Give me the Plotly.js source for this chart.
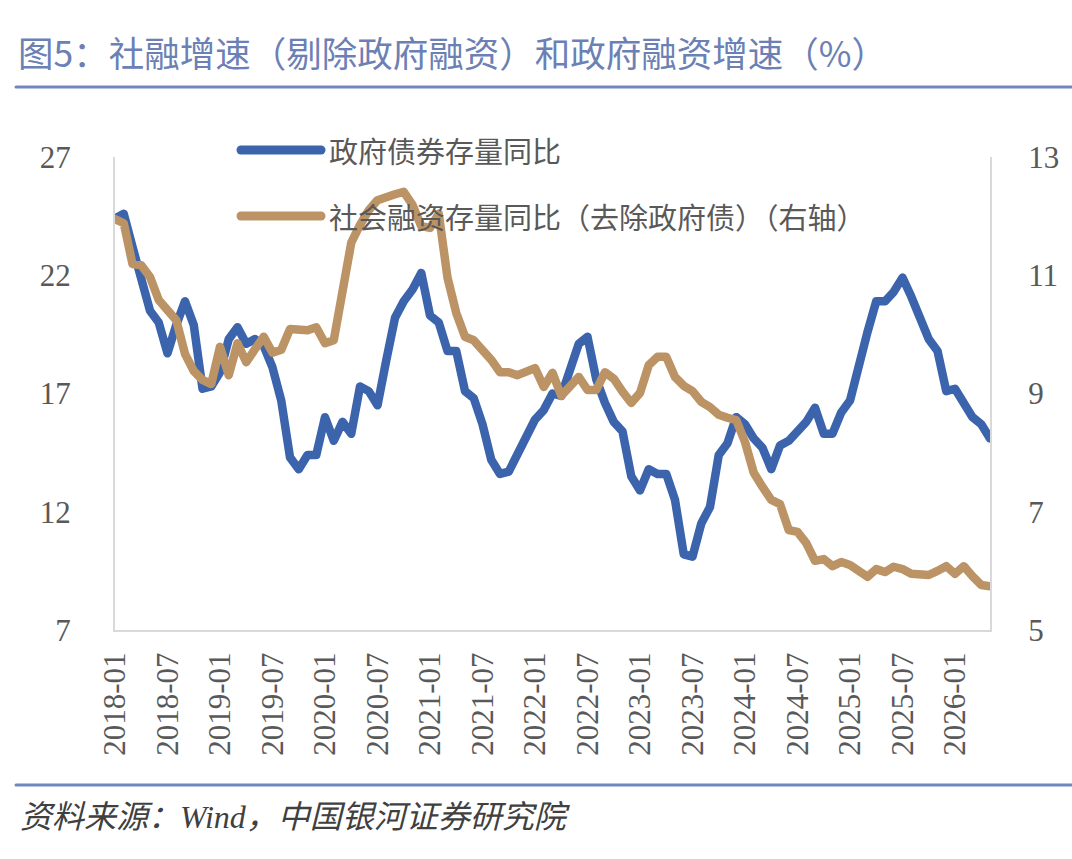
<!DOCTYPE html>
<html>
<head>
<meta charset="utf-8">
<script src="https://cdn.plot.ly/plotly-3.0.1.min.js"></script>
<style>
  html, body { margin: 0; padding: 0; background: #ffffff; }
  #chart { width: 1072px; height: 859px; }
  .js-line { stroke-linejoin: round; stroke-linecap: round; }
  .shapelayer path { stroke-linecap: round; }
</style>
</head>
<body>
<div id="chart"></div>
<script>
// ---------- data ----------
const startYear = 2018, startMonth = 1, monthCount = 101; // 2018-01 .. 2026-05
const months = [];
for (let i = 0; i < monthCount; i++) {
  const m = startMonth - 1 + i;
  const y = startYear + Math.floor(m / 12);
  const mm = (m % 12) + 1;
  months.push(y + '-' + (mm < 10 ? '0' + mm : '' + mm));
}

const seriesNames = ['政府债券存量同比', '社会融资存量同比（去除政府债）（右轴）'];

// 政府债券存量同比 (left axis, %)
const govBondYoY = [
  24.4, 24.6, 23.2, 22.0, 20.5, 20.0, 18.7, 19.9, 20.9, 19.9,
  17.2, 17.3, 17.9, 19.3, 19.8, 19.1, 19.3, 19.0, 18.1, 16.7,
  14.3, 13.8, 14.4, 14.4, 16.0, 15.0, 15.8, 15.3, 17.3, 17.1,
  16.5, 18.4, 20.2, 20.9, 21.4, 22.1, 20.3, 20.0, 18.8, 18.8,
  17.1, 16.8, 15.7, 14.2, 13.6, 13.7, 14.5, 15.3, 15.9, 16.3,
  17.0, 16.9, 18.1, 19.1, 19.4, 17.6, 16.6, 15.8, 15.4, 13.5,
  12.9, 13.8, 13.6, 13.6, 12.5, 10.2, 10.1, 11.5, 12.2, 14.4,
  14.9, 16.0, 15.7, 15.1, 14.7, 13.8, 14.8, 15.0, 15.4, 15.8,
  16.4, 15.3, 15.3, 16.2, 16.7, 18.3, 19.6, 20.9, 20.9, 21.3,
  21.9, 21.1, 20.2, 19.3, 18.8, 17.1, 17.2, 16.6, 16.0, 15.7,
  15.1
];

// 社会融资存量同比（去除政府债） (right axis, %)
const tsfExGovYoY = [
  11.95, 11.88, 11.19, 11.17, 10.97, 10.58, 10.41, 10.24, 9.67, 9.38,
  9.23, 9.16, 9.79, 9.31, 9.85, 9.53, 9.75, 9.96, 9.69, 9.74,
  10.09, 10.07, 10.07, 10.12, 9.85, 9.90, 10.80, 11.55, 11.85, 12.10,
  12.27, 12.33, 12.37, 12.41, 12.19, 11.83, 11.80, 12.04, 10.96, 10.36,
  9.96, 9.90, 9.74, 9.57, 9.36, 9.36, 9.31, 9.36, 9.43, 9.11,
  9.35, 8.96, 9.13, 9.28, 9.06, 9.06, 9.36, 9.25, 9.03, 8.84,
  9.01, 9.48, 9.62, 9.62, 9.28, 9.13, 9.04, 8.86, 8.77, 8.64,
  8.59, 8.55, 8.18, 7.66, 7.42, 7.20, 7.13, 6.69, 6.66, 6.47,
  6.17, 6.20, 6.08, 6.15, 6.10, 5.98, 5.90, 6.03, 5.98, 6.07,
  6.03, 5.95, 5.93, 5.93, 6.00, 6.08, 5.95, 6.08, 5.91, 5.76,
  5.74
];

const leftTicks = [7, 12, 17, 22, 27];
const rightTicks = [5, 7, 9, 11, 13];
const xTickLabels = months.filter((m, i) => i % 6 === 0);

// ---------- styling ----------
const W = 1072, H = 859;
const M = { l: 115, r: 82, t: 157, b: 229 };
const PW = W - M.l - M.r, PH = H - M.t - M.b;
const px = x => (x - M.l) / PW;          // pixel -> paper x
const py = y => (H - M.b - y) / PH;       // pixel -> paper y

const BLUE = '#3b64ad', BROWN = '#bb9365';
const TICKC = '#595959', AXISC = '#d9d9d9', RULEC = '#7088bd';
const NUMFONT = 'Liberation Serif, Times New Roman, serif';
const CJK = 'Noto Sans CJK SC, Noto Sans, sans-serif';

const traces = [
  { x: months, y: govBondYoY, name: seriesNames[0], type: 'scatter', mode: 'lines',
    line: { color: BLUE, width: 8.5 }, yaxis: 'y', showlegend: false },
  { x: months, y: tsfExGovYoY, name: seriesNames[1], type: 'scatter', mode: 'lines',
    line: { color: BROWN, width: 8.5 }, yaxis: 'y2', showlegend: false }
];

const layout = {
  width: W, height: H,
  margin: M,
  paper_bgcolor: '#ffffff', plot_bgcolor: '#ffffff',
  showlegend: false,
  title: {
    text: '图5：社融增速（剔除政府融资）和政府融资增速（%）',
    x: 18 / W, xref: 'container', xanchor: 'left',
    y: 1 - 55 / H, yref: 'container', yanchor: 'middle',
    font: { family: CJK, size: 35.5, color: '#6b80b5' }
  },
  xaxis: {
    type: 'category', categoryorder: 'array', categoryarray: months,
    range: [0, monthCount - 1],
    tickmode: 'array', tickvals: xTickLabels, ticktext: xTickLabels,
    tickangle: -90, ticks: 'outside', ticklen: 8, tickcolor: 'rgba(0,0,0,0)',
    tickfont: { family: NUMFONT, size: 31, color: TICKC },
    showline: true, linecolor: AXISC, linewidth: 2,
    showgrid: false, zeroline: false, fixedrange: true
  },
  yaxis: {
    range: [7, 27], tickmode: 'array', tickvals: leftTicks, ticktext: leftTicks.map(String),
    ticks: 'outside', ticklen: 36, tickcolor: 'rgba(0,0,0,0)',
    tickfont: { family: NUMFONT, size: 31, color: TICKC },
    showline: true, linecolor: AXISC, linewidth: 2,
    showgrid: false, zeroline: false, fixedrange: true
  },
  yaxis2: {
    overlaying: 'y', side: 'right',
    range: [5, 13], tickmode: 'array', tickvals: rightTicks, ticktext: rightTicks.map(String),
    ticks: 'outside', ticklen: 30, tickcolor: 'rgba(0,0,0,0)',
    tickfont: { family: NUMFONT, size: 31, color: TICKC },
    showline: true, linecolor: AXISC, linewidth: 2,
    showgrid: false, zeroline: false, fixedrange: true
  },
  shapes: [
    // title rule
    { type: 'line', xref: 'paper', yref: 'paper', x0: px(16), x1: px(1072), y0: py(87), y1: py(87),
      line: { color: RULEC, width: 3 } },
    // source rule
    { type: 'line', xref: 'paper', yref: 'paper', x0: px(16), x1: px(1072), y0: py(785), y1: py(785),
      line: { color: RULEC, width: 3 } },
    // legend samples
    { type: 'line', xref: 'paper', yref: 'paper', x0: px(241), x1: px(321), y0: py(150), y1: py(150),
      line: { color: BLUE, width: 9 } },
    { type: 'line', xref: 'paper', yref: 'paper', x0: px(241), x1: px(321), y0: py(216), y1: py(216),
      line: { color: BROWN, width: 9 } }
  ],
  annotations: [
    { xref: 'paper', yref: 'paper', x: px(327), y: py(150), xanchor: 'left', yanchor: 'middle',
      text: seriesNames[0], showarrow: false,
      font: { family: CJK, size: 29, color: TICKC } },
    { xref: 'paper', yref: 'paper', x: px(327), y: py(216), xanchor: 'left', yanchor: 'middle',
      text: seriesNames[1], showarrow: false,
      font: { family: CJK, size: 29, color: TICKC } },
    { xref: 'paper', yref: 'paper', x: px(18), y: py(817), xanchor: 'left', yanchor: 'middle',
      text: '资料来源：Wind，中国银河证券研究院', showarrow: false,
      font: { family: 'Liberation Serif, Noto Sans CJK SC, serif', size: 32, color: '#404040', style: 'italic' } }
  ]
};

Plotly.newPlot('chart', traces, layout, { displayModeBar: false, staticPlot: true });
</script>
</body>
</html>
